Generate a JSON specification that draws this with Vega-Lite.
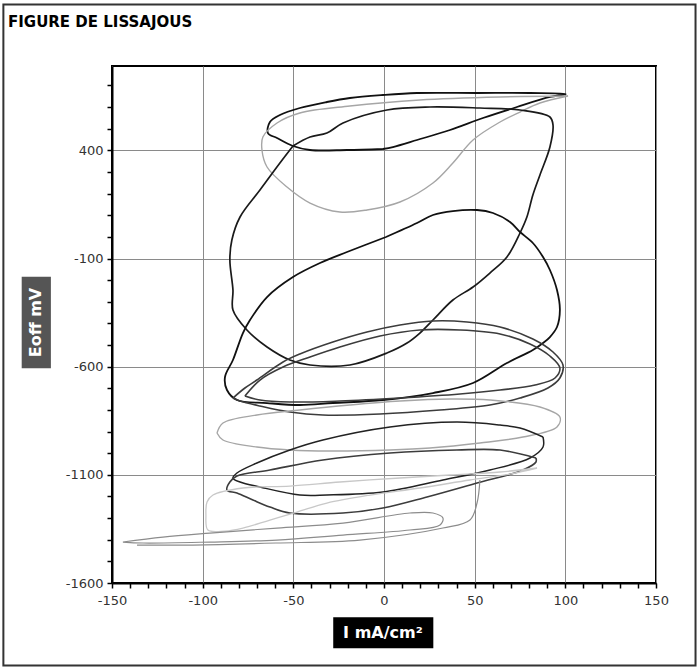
{
  "$schema": "https://vega.github.io/schema/vega-lite/v6.json",
  "width": 544,
  "height": 517,
  "autosize": "none",
  "padding": {"left": 112, "top": 66, "right": 42, "bottom": 85},
  "background": "white",
  "title": {"text": "FIGURE DE LISSAJOUS", "anchor": "start", "frame": "group", "dx": -104, "offset": -26, "font": "DejaVu Sans", "fontSize": 15, "fontWeight": "bold", "color": "#000"},
  "config": {
    "view": {"stroke": "#000", "strokeWidth": 2},
    "axis": {"domainColor": "#000", "domainWidth": 2, "tickColor": "#000", "tickWidth": 1.5, "tickSize": 5, "labelFont": "DejaVu Sans", "labelFontSize": 13, "labelColor": "#333", "gridColor": "#8a8a8a", "gridWidth": 1, "title": null, "labelOverlap": false, "labelFlush": false, "tickCount": 200}
  },
  "layer": [
    {
      "data": {"values": [{}]},
      "mark": {"type": "rect", "fill": null, "stroke": "#333", "strokeWidth": 2, "clip": false},
      "encoding": {
        "x": {"datum": -209.9, "type": "quantitative"},
        "x2": {"datum": 171.8},
        "y": {"datum": 1074.3, "type": "quantitative"},
        "y2": {"datum": -1981.5}
      }
    },
    {
      "data": {"values": [
        {"c":"A","g":"k","i":0,"x":-0.6,"y":406.3},{"c":"A","g":"k","i":1,"x":4.9,"y":415.5},{"c":"A","g":"k","i":2,"x":18.2,"y":447.9},{"c":"A","g":"k","i":3,"x":36.4,"y":494.1},{"c":"A","g":"k","i":4,"x":54.6,"y":549.6},{"c":"A","g":"k","i":5,"x":73.3,"y":600.4},{"c":"A","g":"k","i":6,"x":91.5,"y":646.7},{"c":"A","g":"k","i":7,"x":100.3,"y":660.5},{"c":"A","g":"k","i":8,"x":80.5,"y":665.2},{"c":"A","g":"k","i":9,"x":51.3,"y":665.2},{"c":"A","g":"k","i":10,"x":18.2,"y":665.2},{"c":"A","g":"k","i":11,"x":-0.6,"y":655.9},{"c":"A","g":"k","i":12,"x":-18.8,"y":642.0},{"c":"A","g":"k","i":13,"x":-31.5,"y":623.6},{"c":"A","g":"k","i":14,"x":-46.4,"y":595.8},{"c":"A","g":"k","i":15,"x":-57.4,"y":563.5},{"c":"A","g":"k","i":16,"x":-62.9,"y":531.1},{"c":"A","g":"k","i":17,"x":-64.0,"y":480.2},{"c":"A","g":"k","i":18,"x":-59.0,"y":457.1},{"c":"A","g":"k","i":19,"x":-50.2,"y":420.1},{"c":"A","g":"k","i":20,"x":-40.8,"y":401.6},{"c":"A","g":"k","i":21,"x":-20.4,"y":401.6},{"c":"A","g":"k","i":22,"x":-0.6,"y":406.3},

        {"c":"B","g":"l","i":0,"x":101.5,"y":651.3},{"c":"B","g":"l","i":1,"x":86.0,"y":618.9},{"c":"B","g":"l","i":2,"x":75.0,"y":577.3},{"c":"B","g":"l","i":3,"x":64.0,"y":531.1},{"c":"B","g":"l","i":4,"x":49.1,"y":447.9},{"c":"B","g":"l","i":5,"x":38.0,"y":341.5},{"c":"B","g":"l","i":6,"x":27.0,"y":249.1},{"c":"B","g":"l","i":7,"x":8.8,"y":161.3},{"c":"B","g":"l","i":8,"x":-9.4,"y":124.3},{"c":"B","g":"l","i":9,"x":-24.3,"y":115.0},{"c":"B","g":"l","i":10,"x":-40.8,"y":156.6},{"c":"B","g":"l","i":11,"x":-53.5,"y":230.6},{"c":"B","g":"l","i":12,"x":-64.5,"y":323.1},{"c":"B","g":"l","i":13,"x":-67.3,"y":401.6},{"c":"B","g":"l","i":14,"x":-66.8,"y":461.7},{"c":"B","g":"l","i":15,"x":-59.0,"y":526.5},{"c":"B","g":"l","i":16,"x":-46.4,"y":572.7},{"c":"B","g":"l","i":17,"x":-18.8,"y":605.1},{"c":"B","g":"l","i":18,"x":19.8,"y":632.8},{"c":"B","g":"l","i":19,"x":64.0,"y":646.7},{"c":"B","g":"l","i":20,"x":101.5,"y":651.3},

        {"c":"C","g":"c","i":0,"x":-50.2,"y":420.1},{"c":"C","g":"c","i":1,"x":-40.8,"y":461.7},{"c":"C","g":"c","i":2,"x":-31.5,"y":480.2},{"c":"C","g":"c","i":3,"x":-22.6,"y":526.5},{"c":"C","g":"c","i":4,"x":1.6,"y":586.6},{"c":"C","g":"c","i":5,"x":25.4,"y":600.4},{"c":"C","g":"c","i":6,"x":52.9,"y":595.8},{"c":"C","g":"c","i":7,"x":75.0,"y":586.6},{"c":"C","g":"c","i":8,"x":91.5,"y":554.2},{"c":"C","g":"c","i":9,"x":93.2,"y":517.2},{"c":"C","g":"c","i":10,"x":91.5,"y":415.5},{"c":"C","g":"c","i":11,"x":86.0,"y":286.1},{"c":"C","g":"c","i":12,"x":82.1,"y":193.6},{"c":"C","g":"c","i":13,"x":78.8,"y":91.9},{"c":"C","g":"c","i":14,"x":75.0,"y":18.0},{"c":"C","g":"c","i":15,"x":67.8,"y":-93.0},{"c":"C","g":"c","i":16,"x":58.4,"y":-167.0},{"c":"C","g":"c","i":17,"x":49.1,"y":-231.7},{"c":"C","g":"c","i":18,"x":38.0,"y":-291.8},{"c":"C","g":"c","i":19,"x":27.0,"y":-384.3},{"c":"C","g":"c","i":20,"x":19.8,"y":-444.4},{"c":"C","g":"c","i":21,"x":12.7,"y":-490.6},{"c":"C","g":"c","i":22,"x":1.6,"y":-536.8},{"c":"C","g":"c","i":23,"x":-18.8,"y":-592.3},{"c":"C","g":"c","i":24,"x":-40.8,"y":-592.3},{"c":"C","g":"c","i":25,"x":-51.9,"y":-569.2},{"c":"C","g":"c","i":26,"x":-64.5,"y":-509.1},{"c":"C","g":"c","i":27,"x":-75.6,"y":-430.5},{"c":"C","g":"c","i":28,"x":-83.3,"y":-338.0},{"c":"C","g":"c","i":29,"x":-83.3,"y":-245.6},{"c":"C","g":"c","i":30,"x":-85.0,"y":-106.9},{"c":"C","g":"c","i":31,"x":-83.9,"y":-14.4},{"c":"C","g":"c","i":32,"x":-79.4,"y":91.9},{"c":"C","g":"c","i":33,"x":-68.4,"y":216.7},{"c":"C","g":"c","i":34,"x":-57.4,"y":341.5},{"c":"C","g":"c","i":35,"x":-50.2,"y":420.1},

        {"c":"D","g":"k","i":0,"x":1.1,"y":-0.6},{"c":"D","g":"k","i":1,"x":18.2,"y":64.0},{"c":"D","g":"k","i":2,"x":27.0,"y":101.1},{"c":"D","g":"k","i":3,"x":38.0,"y":119.6},{"c":"D","g":"k","i":4,"x":51.3,"y":124.3},{"c":"D","g":"k","i":5,"x":60.1,"y":110.4},{"c":"D","g":"k","i":6,"x":69.5,"y":68.8},{"c":"D","g":"k","i":7,"x":75.0,"y":22.6},{"c":"D","g":"k","i":8,"x":82.1,"y":-28.3},{"c":"D","g":"k","i":9,"x":87.7,"y":-93.0},{"c":"D","g":"k","i":10,"x":91.5,"y":-153.1},{"c":"D","g":"k","i":11,"x":95.4,"y":-245.6},{"c":"D","g":"k","i":12,"x":97.0,"y":-338.0},{"c":"D","g":"k","i":13,"x":95.4,"y":-416.6},{"c":"D","g":"k","i":14,"x":91.5,"y":-462.9},{"c":"D","g":"k","i":15,"x":87.7,"y":-490.6},{"c":"D","g":"k","i":16,"x":82.1,"y":-523.0},{"c":"D","g":"k","i":17,"x":67.8,"y":-583.1},{"c":"D","g":"k","i":18,"x":49.1,"y":-675.5},{"c":"D","g":"k","i":19,"x":27.0,"y":-721.8},{"c":"D","g":"k","i":20,"x":-0.6,"y":-754.1},{"c":"D","g":"k","i":21,"x":-28.2,"y":-768.0},{"c":"D","g":"k","i":22,"x":-46.4,"y":-777.2},{"c":"D","g":"k","i":23,"x":-64.5,"y":-768.0},{"c":"D","g":"k","i":24,"x":-81.1,"y":-754.1},{"c":"D","g":"k","i":25,"x":-86.6,"y":-707.9},{"c":"D","g":"k","i":26,"x":-87.7,"y":-647.8},{"c":"D","g":"k","i":27,"x":-83.3,"y":-569.2},{"c":"D","g":"k","i":28,"x":-77.8,"y":-444.4},{"c":"D","g":"k","i":29,"x":-73.9,"y":-384.3},{"c":"D","g":"k","i":30,"x":-64.5,"y":-278.0},{"c":"D","g":"k","i":31,"x":-50.2,"y":-185.5},{"c":"D","g":"k","i":32,"x":-35.3,"y":-120.8},{"c":"D","g":"k","i":33,"x":-20.4,"y":-70.0},{"c":"D","g":"k","i":34,"x":1.1,"y":-0.6},

        {"c":"E1","g":"e","i":0,"x":-83.3,"y":-744.9},{"c":"E1","g":"e","i":1,"x":-76.7,"y":-698.6},{"c":"E1","g":"e","i":2,"x":-70.1,"y":-661.6},{"c":"E1","g":"e","i":3,"x":-55.7,"y":-578.4},{"c":"E1","g":"e","i":4,"x":-46.4,"y":-541.4},{"c":"E1","g":"e","i":5,"x":-28.2,"y":-486.0},{"c":"E1","g":"e","i":6,"x":-9.4,"y":-439.7},{"c":"E1","g":"e","i":7,"x":8.8,"y":-407.4},{"c":"E1","g":"e","i":8,"x":27.0,"y":-388.9},{"c":"E1","g":"e","i":9,"x":45.8,"y":-393.5},{"c":"E1","g":"e","i":10,"x":64.0,"y":-416.6},{"c":"E1","g":"e","i":11,"x":82.1,"y":-472.0},{"c":"E1","g":"e","i":12,"x":93.2,"y":-532.2},{"c":"E1","g":"e","i":13,"x":98.7,"y":-592.3},{"c":"E1","g":"e","i":14,"x":97.0,"y":-652.4},{"c":"E1","g":"e","i":15,"x":90.4,"y":-698.6},{"c":"E1","g":"e","i":16,"x":75.0,"y":-744.9},{"c":"E1","g":"e","i":17,"x":58.4,"y":-777.2},{"c":"E1","g":"e","i":18,"x":30.9,"y":-800.3},{"c":"E1","g":"e","i":19,"x":-2.2,"y":-818.8},{"c":"E1","g":"e","i":20,"x":-33.7,"y":-823.4},{"c":"E1","g":"e","i":21,"x":-51.9,"y":-809.6},{"c":"E1","g":"e","i":22,"x":-68.4,"y":-781.8},{"c":"E1","g":"e","i":23,"x":-79.4,"y":-758.7},{"c":"E1","g":"e","i":24,"x":-83.3,"y":-744.9},

        {"c":"E2","g":"e","i":0,"x":-76.7,"y":-735.6},{"c":"E2","g":"e","i":1,"x":-68.4,"y":-661.6},{"c":"E2","g":"e","i":2,"x":-55.7,"y":-601.6},{"c":"E2","g":"e","i":3,"x":-40.8,"y":-555.3},{"c":"E2","g":"e","i":4,"x":-24.3,"y":-509.1},{"c":"E2","g":"e","i":5,"x":-2.2,"y":-458.2},{"c":"E2","g":"e","i":6,"x":19.8,"y":-430.5},{"c":"E2","g":"e","i":7,"x":41.9,"y":-430.5},{"c":"E2","g":"e","i":8,"x":64.0,"y":-448.9},{"c":"E2","g":"e","i":9,"x":80.5,"y":-495.2},{"c":"E2","g":"e","i":10,"x":91.5,"y":-550.7},{"c":"E2","g":"e","i":11,"x":97.0,"y":-606.2},{"c":"E2","g":"e","i":12,"x":94.3,"y":-652.4},{"c":"E2","g":"e","i":13,"x":83.3,"y":-684.8},{"c":"E2","g":"e","i":14,"x":64.0,"y":-707.9},{"c":"E2","g":"e","i":15,"x":41.9,"y":-726.4},{"c":"E2","g":"e","i":16,"x":8.8,"y":-744.9},{"c":"E2","g":"e","i":17,"x":-24.3,"y":-758.7},{"c":"E2","g":"e","i":18,"x":-51.9,"y":-763.3},{"c":"E2","g":"e","i":19,"x":-68.4,"y":-754.1},{"c":"E2","g":"e","i":20,"x":-76.7,"y":-735.6},

        {"c":"F","g":"l","i":0,"x":-92.1,"y":-906.7},{"c":"F","g":"l","i":1,"x":-88.8,"y":-860.4},{"c":"F","g":"l","i":2,"x":-70.1,"y":-823.4},{"c":"F","g":"l","i":3,"x":-46.4,"y":-800.3},{"c":"F","g":"l","i":4,"x":-18.8,"y":-777.2},{"c":"F","g":"l","i":5,"x":8.8,"y":-758.7},{"c":"F","g":"l","i":6,"x":36.4,"y":-749.5},{"c":"F","g":"l","i":7,"x":58.4,"y":-754.1},{"c":"F","g":"l","i":8,"x":86.0,"y":-786.4},{"c":"F","g":"l","i":9,"x":97.0,"y":-832.7},{"c":"F","g":"l","i":10,"x":95.4,"y":-878.9},{"c":"F","g":"l","i":11,"x":76.6,"y":-925.1},{"c":"F","g":"l","i":12,"x":52.9,"y":-952.9},{"c":"F","g":"l","i":13,"x":25.4,"y":-976.0},{"c":"F","g":"l","i":14,"x":3.3,"y":-985.2},{"c":"F","g":"l","i":15,"x":-29.8,"y":-989.8},{"c":"F","g":"l","i":16,"x":-51.9,"y":-985.2},{"c":"F","g":"l","i":17,"x":-70.1,"y":-971.3},{"c":"F","g":"l","i":18,"x":-88.8,"y":-939.0},{"c":"F","g":"l","i":19,"x":-92.1,"y":-906.7},

        {"c":"G1","g":"g","i":0,"x":87.7,"y":-925.1},{"c":"G1","g":"g","i":1,"x":75.0,"y":-883.5},{"c":"G1","g":"g","i":2,"x":64.0,"y":-869.7},{"c":"G1","g":"g","i":3,"x":40.2,"y":-855.8},{"c":"G1","g":"g","i":4,"x":3.3,"y":-878.9},{"c":"G1","g":"g","i":5,"x":-33.7,"y":-939.0},{"c":"G1","g":"g","i":6,"x":-51.9,"y":-985.2},{"c":"G1","g":"g","i":7,"x":-70.1,"y":-1045.3},{"c":"G1","g":"g","i":8,"x":-81.1,"y":-1091.6},{"c":"G1","g":"g","i":9,"x":-83.3,"y":-1114.7},{"c":"G1","g":"g","i":10,"x":-79.4,"y":-1133.2},{"c":"G1","g":"g","i":11,"x":-68.4,"y":-1156.3},{"c":"G1","g":"g","i":12,"x":-46.4,"y":-1193.3},{"c":"G1","g":"g","i":13,"x":-31.5,"y":-1193.3},{"c":"G1","g":"g","i":14,"x":-0.6,"y":-1179.4},{"c":"G1","g":"g","i":15,"x":32.5,"y":-1123.9},{"c":"G1","g":"g","i":16,"x":58.4,"y":-1077.7},{"c":"G1","g":"g","i":17,"x":80.5,"y":-1022.2},{"c":"G1","g":"g","i":18,"x":87.7,"y":-971.3},{"c":"G1","g":"g","i":19,"x":87.7,"y":-925.1},

        {"c":"G2","g":"e","i":0,"x":83.8,"y":-1022.2},{"c":"G2","g":"e","i":1,"x":64.0,"y":-985.2},{"c":"G2","g":"e","i":2,"x":40.2,"y":-985.2},{"c":"G2","g":"e","i":3,"x":3.3,"y":-999.1},{"c":"G2","g":"e","i":4,"x":-33.7,"y":-1031.5},{"c":"G2","g":"e","i":5,"x":-62.9,"y":-1077.7},{"c":"G2","g":"e","i":6,"x":-81.1,"y":-1105.4},{"c":"G2","g":"e","i":7,"x":-85.0,"y":-1133.2},{"c":"G2","g":"e","i":8,"x":-86.6,"y":-1170.2},{"c":"G2","g":"e","i":9,"x":-81.1,"y":-1184.0},{"c":"G2","g":"e","i":10,"x":-72.3,"y":-1216.4},{"c":"G2","g":"e","i":11,"x":-62.9,"y":-1248.8},{"c":"G2","g":"e","i":12,"x":-51.9,"y":-1276.5},{"c":"G2","g":"e","i":13,"x":-22.6,"y":-1276.5},{"c":"G2","g":"e","i":14,"x":-0.6,"y":-1253.4},{"c":"G2","g":"e","i":15,"x":23.7,"y":-1202.5},{"c":"G2","g":"e","i":16,"x":51.3,"y":-1137.8},{"c":"G2","g":"e","i":17,"x":76.6,"y":-1077.7},{"c":"G2","g":"e","i":18,"x":83.8,"y":-1040.7},{"c":"G2","g":"e","i":19,"x":83.8,"y":-1022.2},

        {"c":"H","g":"v","i":0,"x":84.4,"y":-1068.4},{"c":"H","g":"v","i":1,"x":64.0,"y":-1086.9},{"c":"H","g":"v","i":2,"x":36.4,"y":-1100.8},{"c":"H","g":"v","i":3,"x":8.8,"y":-1114.7},{"c":"H","g":"v","i":4,"x":-24.3,"y":-1133.2},{"c":"H","g":"v","i":5,"x":-51.9,"y":-1151.7},{"c":"H","g":"v","i":6,"x":-77.8,"y":-1160.9},{"c":"H","g":"v","i":7,"x":-94.3,"y":-1193.3},{"c":"H","g":"v","i":8,"x":-97.6,"y":-1225.6},{"c":"H","g":"v","i":9,"x":-98.2,"y":-1285.7},{"c":"H","g":"v","i":10,"x":-97.1,"y":-1355.1},{"c":"H","g":"v","i":11,"x":-87.7,"y":-1359.8},{"c":"H","g":"v","i":12,"x":-77.8,"y":-1345.9},{"c":"H","g":"v","i":13,"x":-62.9,"y":-1308.9},{"c":"H","g":"v","i":14,"x":-48.0,"y":-1271.9},{"c":"H","g":"v","i":15,"x":-31.5,"y":-1230.3},{"c":"H","g":"v","i":16,"x":-7.7,"y":-1193.3},{"c":"H","g":"v","i":17,"x":19.8,"y":-1160.9},{"c":"H","g":"v","i":18,"x":47.4,"y":-1123.9},{"c":"H","g":"v","i":19,"x":69.5,"y":-1096.2},{"c":"H","g":"v","i":20,"x":84.4,"y":-1068.4},

        {"c":"I1","g":"m","i":0,"x":-144.0,"y":-1410.6},{"c":"I1","g":"m","i":1,"x":-121.9,"y":-1387.5},{"c":"I1","g":"m","i":2,"x":-96.0,"y":-1369.0},{"c":"I1","g":"m","i":3,"x":-59.0,"y":-1345.9},{"c":"I1","g":"m","i":4,"x":-22.6,"y":-1322.8},{"c":"I1","g":"m","i":5,"x":14.3,"y":-1276.5},{"c":"I1","g":"m","i":6,"x":27.0,"y":-1276.5},{"c":"I1","g":"m","i":7,"x":32.5,"y":-1299.6},{"c":"I1","g":"m","i":8,"x":30.9,"y":-1332.0},{"c":"I1","g":"m","i":9,"x":14.3,"y":-1355.1},{"c":"I1","g":"m","i":10,"x":-22.6,"y":-1378.3},{"c":"I1","g":"m","i":11,"x":-59.0,"y":-1401.4},{"c":"I1","g":"m","i":12,"x":-96.0,"y":-1410.6},{"c":"I1","g":"m","i":13,"x":-132.9,"y":-1415.2},{"c":"I1","g":"m","i":14,"x":-144.0,"y":-1410.6},

        {"c":"I2","g":"m","i":0,"x":52.9,"y":-1123.9},{"c":"I2","g":"m","i":1,"x":51.3,"y":-1230.3},{"c":"I2","g":"m","i":2,"x":47.4,"y":-1308.9},{"c":"I2","g":"m","i":3,"x":32.5,"y":-1345.9},{"c":"I2","g":"m","i":4,"x":-13.3,"y":-1401.4},{"c":"I2","g":"m","i":5,"x":-59.6,"y":-1415.2},{"c":"I2","g":"m","i":6,"x":-105.4,"y":-1424.5},{"c":"I2","g":"m","i":7,"x":-136.2,"y":-1424.5}
      ]},
      "mark": {"type": "line", "interpolate": "catmull-rom", "clip": true},
      "encoding": {
        "x": {"field": "x", "type": "quantitative", "scale": {"domain": [-150, 150], "nice": false, "zero": false},
          "axis": {"values": [-150,-140,-130,-120,-110,-100,-90,-80,-70,-60,-50,-40,-30,-20,-10,0,10,20,30,40,50,60,70,80,90,100,110,120,130,140,150],
            "labelExpr": "datum.value % 50 === 0 ? '' + datum.value : ''", "labelPadding": 6,
            "grid": true, "gridOpacity": {"condition": {"test": "datum.value % 50 === 0", "value": 1}, "value": 0}}},
        "y": {"field": "y", "type": "quantitative", "scale": {"domain": [-1600, 790], "nice": false, "zero": false},
          "axis": {"values": [-1600,-1500,-1400,-1300,-1200,-1100,-1000,-900,-800,-700,-600,-500,-400,-300,-200,-100,0,100,200,300,400,500,600,700],
            "labelExpr": "(datum.value + 1600) % 500 === 0 ? '' + datum.value : ''", "labelPadding": 4,
            "grid": true, "gridOpacity": {"condition": {"test": "(datum.value + 1600) % 500 === 0", "value": 1}, "value": 0}}},
        "detail": {"field": "c"},
        "order": {"field": "i", "type": "quantitative"},
        "color": {"field": "g", "type": "nominal", "legend": null, "scale": {"domain": ["k","c","e","g","l","v","m"], "range": ["#111111","#1a1a1a","#3c3c3c","#222222","#a6a6a6","#c8c8c8","#8c8c8c"]}},
        "strokeWidth": {"field": "g", "type": "nominal", "legend": null, "scale": {"domain": ["k","c","e","g","l","v","m"], "range": [1.8, 1.2, 1.2, 1.5, 1.1, 1.1, 1.2]}}
      }
    },
    {
      "data": {"values": [{}]},
      "mark": {"type": "rect", "fill": "#000", "clip": false},
      "encoding": {
        "x": {"datum": -28.0, "type": "quantitative"},
        "x2": {"datum": 27.2},
        "y": {"datum": -1758.7, "type": "quantitative"},
        "y2": {"datum": -1902}
      }
    },
    {
      "data": {"values": [{}]},
      "mark": {"type": "text", "text": "I mA/cm²", "color": "#fff", "font": "DejaVu Sans", "fontSize": 16, "fontWeight": "bold", "align": "center", "baseline": "middle", "clip": false},
      "encoding": {
        "x": {"datum": -0.6, "type": "quantitative"},
        "y": {"datum": -1831.3, "type": "quantitative"}
      }
    },
    {
      "data": {"values": [{}]},
      "mark": {"type": "rect", "fill": "#555", "clip": false},
      "encoding": {
        "x": {"datum": -199.8, "type": "quantitative"},
        "x2": {"datum": -183.7},
        "y": {"datum": -184.1, "type": "quantitative"},
        "y2": {"datum": -607.6}
      }
    },
    {
      "data": {"values": [{}]},
      "mark": {"type": "text", "text": "Eoff mV", "color": "#fff", "font": "DejaVu Sans", "fontSize": 16, "fontWeight": "bold", "align": "center", "baseline": "middle", "angle": 270, "clip": false},
      "encoding": {
        "x": {"datum": -191.8, "type": "quantitative"},
        "y": {"datum": -395.8, "type": "quantitative"}
      }
    }
  ]
}
